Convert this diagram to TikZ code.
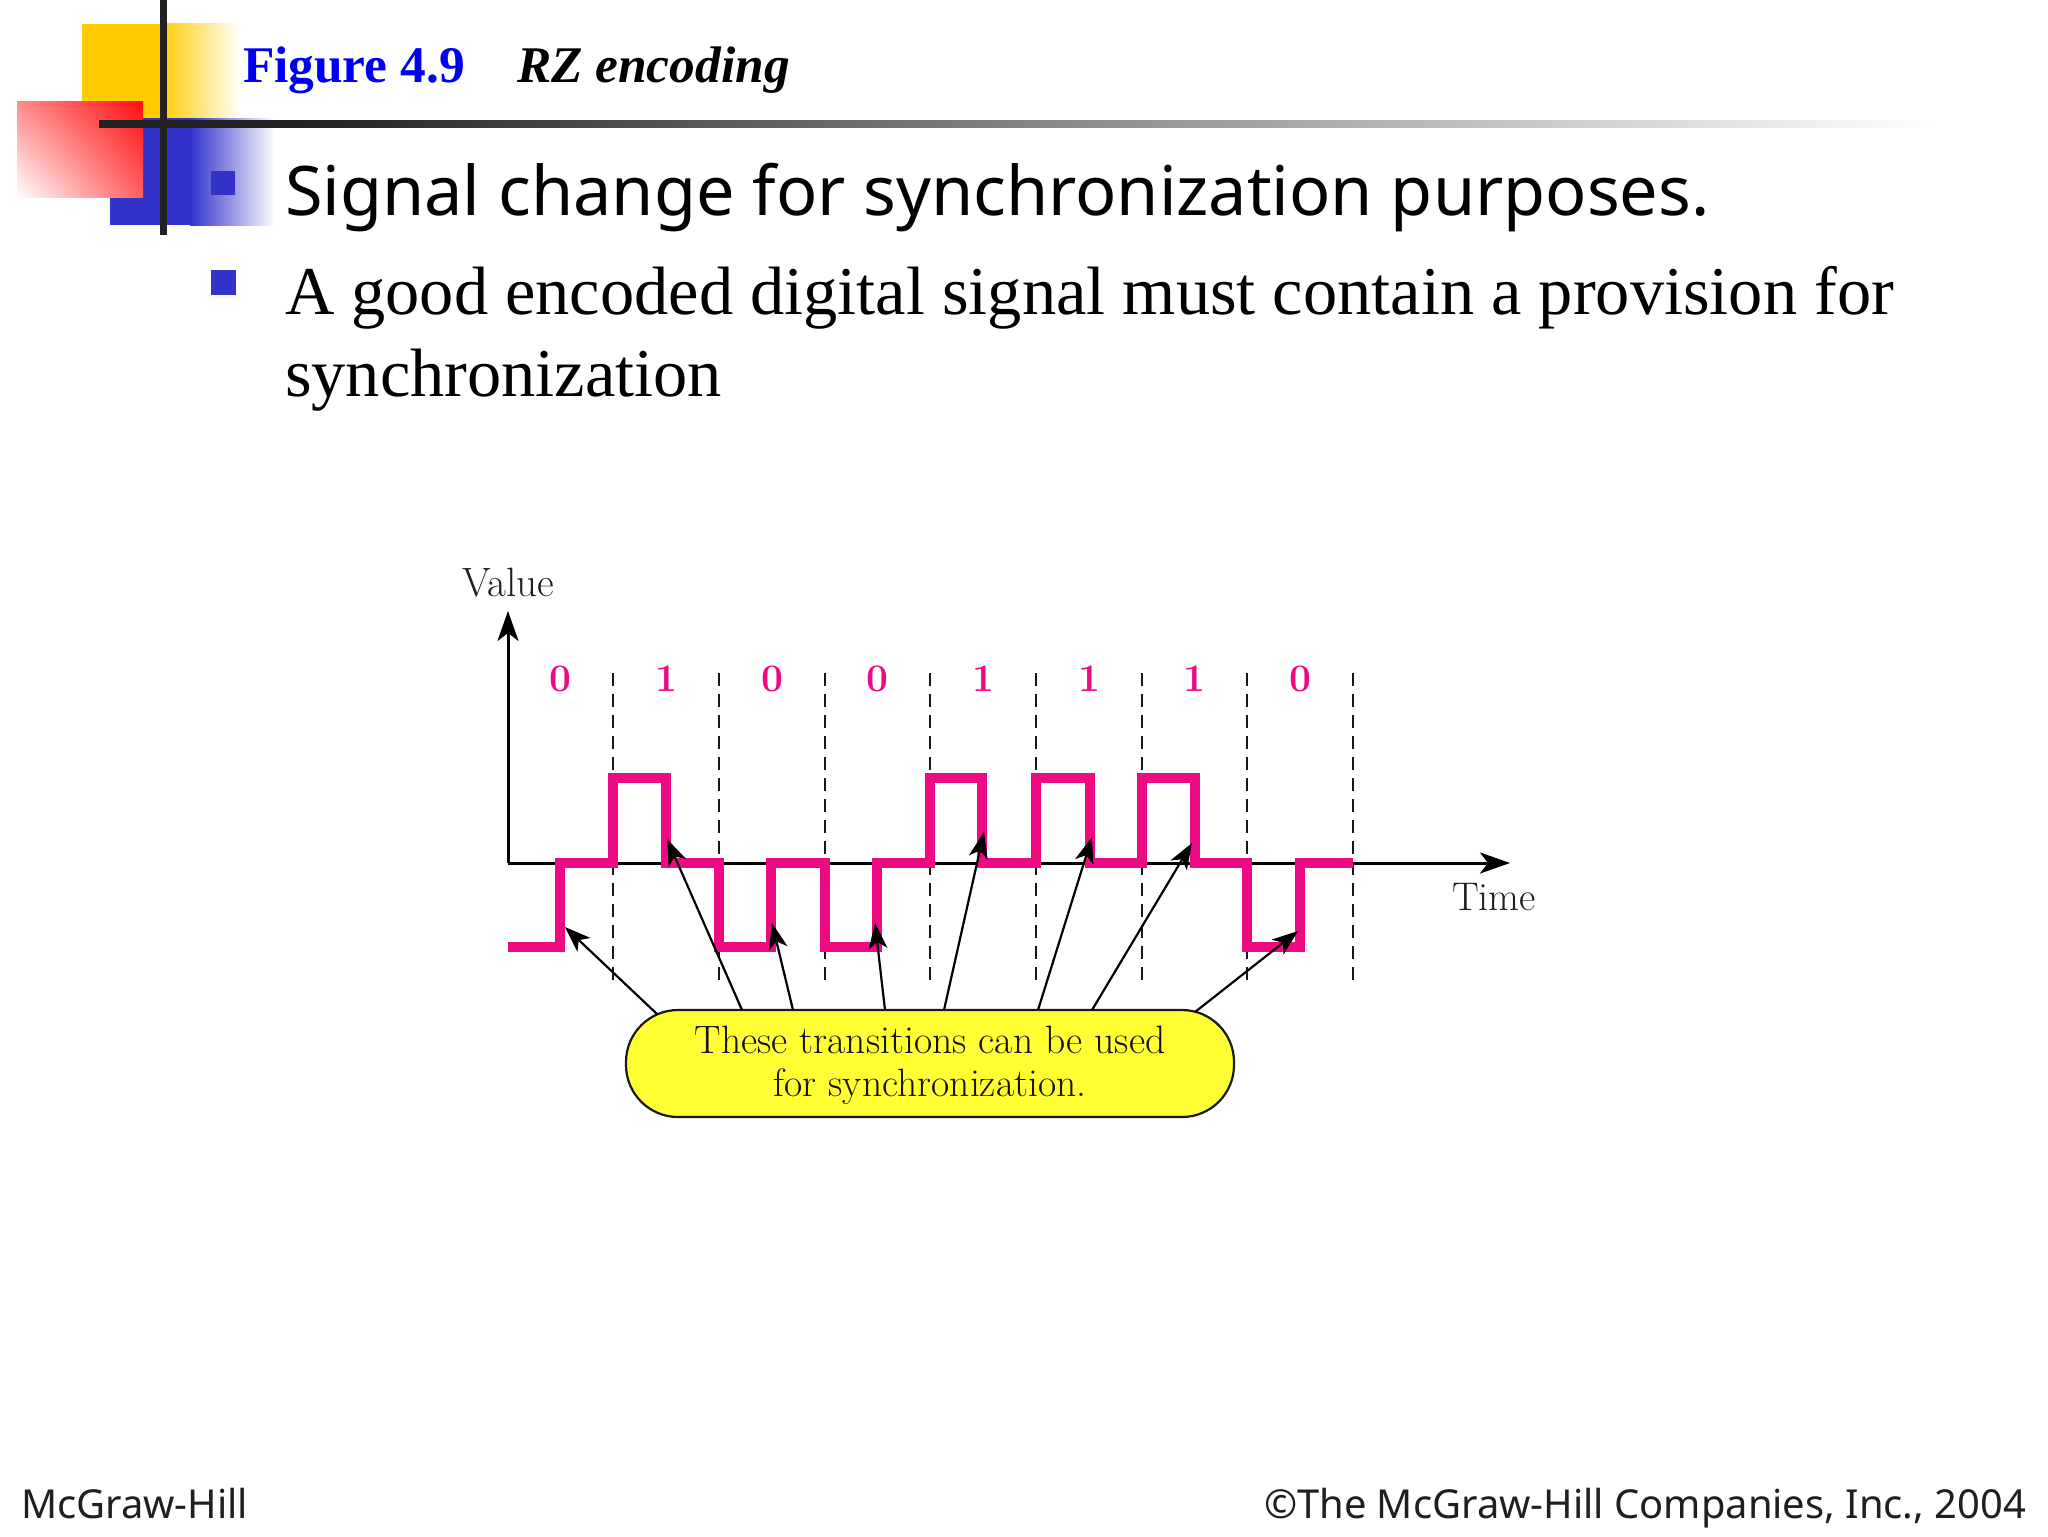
\documentclass[tikz,border=0pt]{standalone}
\usepackage{fontspec}
\usetikzlibrary{arrows.meta,shadings}
\newfontfamily\notofont{Noto Sans}
\newfontfamily\timesfont{Liberation Serif}
\newcommand{\lmfont}{\rmfamily}
\newcommand{\fsz}[1]{\fontsize{#1pt}{#1pt}\selectfont}
\definecolor{sigpink}{HTML}{EE0A82}
\definecolor{barblue}{HTML}{3333CC}
\definecolor{baryellow}{HTML}{FFCC00}
\definecolor{barred}{HTML}{FF0F0F}
\definecolor{redul}{HTML}{FF8C8C}
\definecolor{redlr}{HTML}{FF6060}
\definecolor{bardark}{HTML}{222222}
\definecolor{pillyellow}{HTML}{FFFF33}
\definecolor{figblue}{HTML}{0000F0}
\pgfdeclarehorizontalshading{barfade}{100bp}{color(0bp)=(bardark); color(30.5bp)=(bardark); color(75bp)=(white); color(100bp)=(white)}
\tikzset{
  txt/.style={inner sep=0pt,outer sep=0pt,anchor=base west},
  txtr/.style={inner sep=0pt,outer sep=0pt,anchor=base east},
  lbl/.style={inner sep=0pt,outer sep=0pt,anchor=base,font=\lmfont\fsz{20.5},text=black!88},
  bit/.style={inner sep=0pt,outer sep=0pt,anchor=base,font=\lmfont\bfseries\fsz{19.5},text=sigpink},
  axisline/.style={line width=1.5pt,black,-{Stealth[length=15pt,width=10.5pt,inset=4pt]}},
  tickline/.style={line width=1.4pt,black!90,dash pattern=on 6.5pt off 4pt},
  signal/.style={line width=4.8pt,sigpink,line join=miter},
  callout/.style={line width=1.1pt,black,-{Stealth[length=13pt,width=9.5pt,inset=3.5pt]}},
  pill/.style={draw=black!90,line width=1.1pt,fill=pillyellow,rounded corners=26pt,
    minimum width=304pt,minimum height=53.5pt,inner sep=0pt},
  pilltext/.style={inner sep=0pt,outer sep=0pt,anchor=base,font=\lmfont\fsz{19.8},text=black!92},
  crossbar/.style={fill=bardark}
}
\begin{document}
\begin{tikzpicture}[x=0.5pt,y=-0.5pt]
\useasboundingbox (0,0) rectangle (2048,1536);
% decoration
\fill[baryellow] (82,24) rectangle (162,118);
\shade[left color=baryellow,right color=white] (160,24) rectangle (241,118);
\fill[barblue] (110,118) rectangle (192,225);
\shade[left color=barblue,right color=white] (190,118) rectangle (275,225);
\shade[upper right=barred,lower left=white,upper left=redul,lower right=redlr] (17,102) rectangle (143,197);
\fill[crossbar] (160,0) rectangle (167,235);
\shade[shading=barfade,shading angle=0] (99,120) rectangle (1935,127);
\fill[barblue] (211,171) rectangle (235,195);
\fill[barblue] (211,270) rectangle (236,295);
% texts
\node[txt,font=\timesfont\bfseries\fsz{25.7},text=figblue] (fig) at (243,83) {Figure 4.9};
\node[txt,font=\timesfont\bfseries\itshape\fsz{25.7},text=black] (cap) at (517,83) {RZ encoding};
\node[txt,font=\notofont\fsz{34.2},text=black] (l1) at (285,215) {Signal change for synchronization purposes.};
\node[txt,font=\timesfont\fsz{34.2},text=black] (l2) at (285,314) {A good encoded digital signal must contain a provision for};
\node[txt,font=\timesfont\fsz{34.2},text=black] (l3) at (285,396) {synchronization};
\node[txt,font=\notofont\fsz{19.95},text=black!88] (foot1) at (21,1518) {McGraw-Hill};
\node[txtr,font=\notofont\fsz{19.95},text=black!88] (foot2) at (2026,1518) {©The McGraw-Hill Companies, Inc., 2004};
% diagram
\coordinate (origin) at (508,863);
\coordinate (ytip) at (508,611);
\coordinate (xtip) at (1510,863);
\foreach \n/\x in {t1/613,t2/719,t3/825,t4/930,t5/1036,t6/1142,t7/1247,t8/1353}{
  \coordinate (\n a) at (\x,673);
  \coordinate (\n b) at (\x,982);
  \draw[tickline] (\n a) -- (\n b);
}
\draw[axisline] (origin) -- (ytip);
\draw[axisline] (origin) -- (xtip);
\node[lbl] (value) at (508,596) {Value};
\node[lbl,font=\lmfont\fsz{20}] (time) at (1494,910) {Time};
\foreach \n/\x/\b in {b1/560/0,b2/666/1,b3/772/0,b4/877/0,b5/983/1,b6/1089/1,b7/1194/1,b8/1300/0}{
  \node[bit] (\n) at (\x,691) {\b};
}
\draw[signal] (508,947) -- (560,947) -- (560,863) -- (613,863) -- (613,778) -- (666,778) -- (666,863)
  -- (719,863) -- (719,947) -- (771,947) -- (771,863) -- (825,863) -- (825,947) -- (877,947)
  -- (877,863) -- (930,863) -- (930,778) -- (982,778) -- (982,863) -- (1036,863) -- (1036,778)
  -- (1090,778) -- (1090,863) -- (1142,863) -- (1142,778) -- (1195,778) -- (1195,863) -- (1247,863)
  -- (1247,947) -- (1300,947) -- (1300,863) -- (1353,863);
\node[pill] (note) at (930,1063.5) {};
\node[pilltext] (notea) at (930,1053) {These transitions can be used};
\node[pilltext] (noteb) at (930,1096) {for synchronization.};
\foreach \n/\sx/\sy/\tx/\ty in {
  a1/657/1014/565/927,a2/742/1010/667/839,a3/793/1010/772/923,a4/885/1010/875/923,
  a5/944/1010/984/832,a6/1038/1010/1092/837,a7/1092/1010/1192/843,a8/1195/1012/1298/931}{
  \coordinate (\n s) at (\sx,\sy);
  \coordinate (\n t) at (\tx,\ty);
  \draw[callout] (\n s) -- (\n t);
}
\end{tikzpicture}
\end{document}
